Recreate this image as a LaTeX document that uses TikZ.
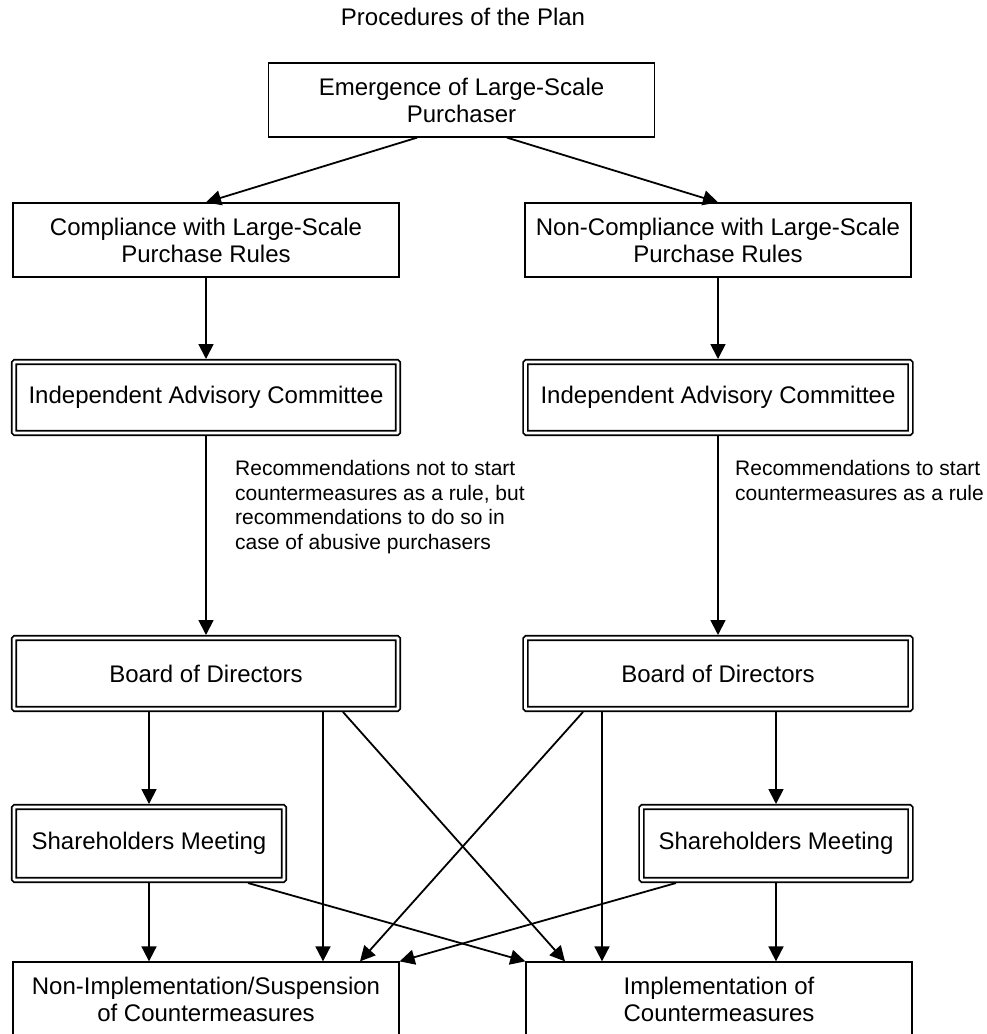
\documentclass[tikz,border=0pt]{standalone}
\usepackage{fontspec}
\setmainfont{Liberation Sans}
\usetikzlibrary{arrows.meta}

\begin{document}
\begin{tikzpicture}[x=1pt, y=-1pt,
    box/.style={draw, line width=1.3pt, minimum width=386pt, minimum height=74pt,
        align=center, inner sep=0pt, font=\fontsize{24}{27}\selectfont},
    dbox/.style={draw, line width=1.8pt, double, double distance=2.6pt, rounded corners=1pt,
        minimum height=71pt, outer sep=3pt, align=center, inner sep=0pt,
        font=\fontsize{24}{27}\selectfont},
    note/.style={align=left, inner sep=0pt, anchor=north west,
        font=\fontsize{21}{24.7}\selectfont},
    arr/.style={line width=1.8pt, -{Triangle[width=15pt,length=15pt]}}]

    \clip (0,0) rectangle (987,1034);

    \node[font=\fontsize{24}{27}\selectfont] (title) at (463,17) {Procedures of the Plan};
    \node[box] (top) at (461.5,100) {Emergence of Large-Scale\\Purchaser};

    \node[box] (comp) at (206,240) {Compliance with Large-Scale\\Purchase Rules};
    \node[box] (noncomp) at (718,240) {Non-Compliance with Large-Scale\\Purchase Rules};

    \node[dbox, minimum width=384pt] (iacL) at (206,397.5) {Independent Advisory Committee};
    \node[dbox, minimum width=385pt] (iacR) at (718,397.5) {Independent Advisory Committee};

    \node[note] (recL) at (235,460) {Recommendations not to start\\countermeasures as a rule, but\\recommendations to do so in\\case of abusive purchasers};
    \node[note] (recR) at (735,460) {Recommendations to start\\countermeasures as a rule};

    \node[dbox, minimum width=384pt] (boardL) at (206,673.5) {Board of Directors};
    \node[dbox, minimum width=385pt] (boardR) at (718,673.5) {Board of Directors};

    \node[dbox, minimum width=270pt, minimum height=73pt] (shL) at (149,843.5) {Shareholders Meeting};
    \node[dbox, minimum width=269pt, minimum height=73pt] (shR) at (776,843.5) {Shareholders Meeting};

    \node[box] (noimpl) at (206,999) {Non-Implementation/Suspension\\of Countermeasures};
    \node[box] (impl) at (719,999) {Implementation of\\Countermeasures};

    % upper part
    \draw[arr] ([xshift=-44.5pt]top.south) -- (comp.north);
    \draw[arr] ([xshift=45.5pt]top.south) -- (noncomp.north);
    \draw[arr] (comp.south) -- (iacL.north);
    \draw[arr] (noncomp.south) -- (iacR.north);
    \draw[arr] (iacL.south) -- (boardL.north);
    \draw[arr] (iacR.south) -- (boardR.north);

    % from the boards
    \draw[arr] (boardL.south -| shL.north) -- (shL.north);
    \draw[arr] ([xshift=117pt]boardL.south) -- ([xshift=117pt]noimpl.north);
    \draw[arr] ([xshift=137pt]boardL.south) -- ([xshift=-154pt]impl.north);
    \draw[arr] ([xshift=-135pt]boardR.south) -- ([xshift=154pt]noimpl.north);
    \draw[arr] ([xshift=-116pt]boardR.south) -- ([xshift=-117pt]impl.north);
    \draw[arr] (boardR.south -| shR.north) -- (shR.north);

    % from the shareholders meetings
    \draw[arr] (shL.south) -- (shL.south |- noimpl.north);
    \draw[arr] ([xshift=99pt]shL.south) -- (impl.north west);
    \draw[arr] ([xshift=-100pt]shR.south) -- (noimpl.north east);
    \draw[arr] (shR.south) -- (shR.south |- impl.north);
\end{tikzpicture}
\end{document}
